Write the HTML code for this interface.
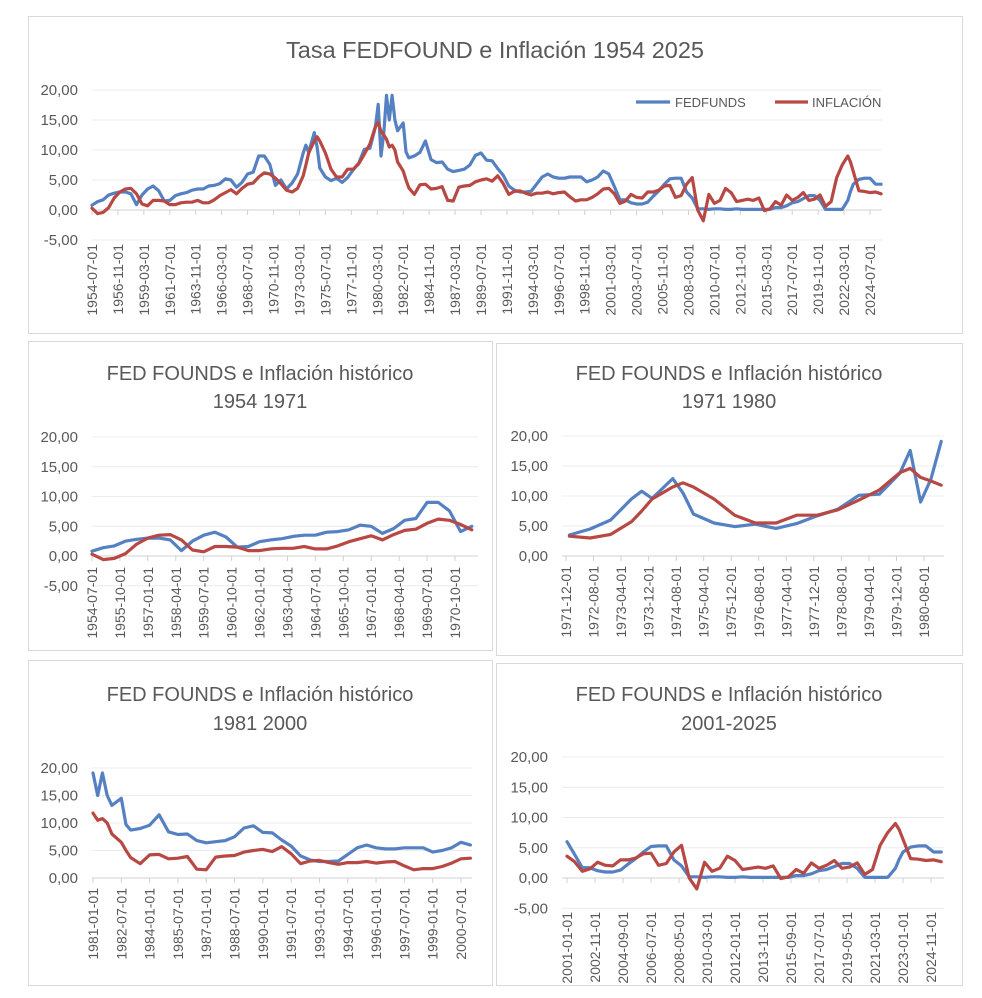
<!DOCTYPE html>
<html><head><meta charset="utf-8"><style>
body{margin:0;background:#fff;}
svg{display:block;font-family:"Liberation Sans",sans-serif;}
</style></head><body>
<svg id="svg" width="982" height="998" viewBox="0 0 982 998"></svg>
<script>
const years=[1954.5,1955,1955.5,1956,1956.5,1957,1957.5,1958,1958.5,1959,1959.5,1960,1960.5,1961,1961.5,1962,1962.5,1963,1963.5,1964,1964.5,1965,1965.5,1966,1966.5,1967,1967.5,1968,1968.5,1969,1969.5,1970,1970.5,1971,1971.5,1972,1972.5,1973,1973.5,1973.75,1974,1974.5,1974.75,1975,1975.5,1976,1976.5,1977,1977.5,1978,1978.5,1979,1979.5,1980,1980.25,1980.5,1980.75,1981,1981.25,1981.5,1981.75,1982,1982.5,1982.75,1983,1983.5,1984,1984.5,1985,1985.5,1986,1986.5,1987,1987.5,1988,1988.5,1989,1989.5,1990,1990.5,1991,1991.5,1992,1992.5,1993,1993.5,1994,1994.5,1995,1995.5,1996,1996.5,1997,1997.5,1998,1998.5,1999,1999.5,2000,2000.5,2001,2001.5,2002,2002.5,2003,2003.5,2004,2004.5,2005,2005.5,2006,2006.5,2007,2007.5,2008,2008.5,2009,2009.5,2010,2010.5,2011,2011.5,2012,2012.5,2013,2013.5,2014,2014.5,2015,2015.5,2016,2016.5,2017,2017.5,2018,2018.5,2019,2019.5,2020,2020.5,2021,2021.5,2022,2022.5,2022.75,2023,2023.5,2024,2024.5,2025,2025.5];
const fedfunds=[0.8,1.4,1.7,2.5,2.8,3.0,3.0,2.7,0.9,2.5,3.5,4.0,3.2,1.5,1.6,2.4,2.7,2.9,3.3,3.5,3.5,4.0,4.1,4.4,5.2,5.0,3.8,4.6,6.0,6.3,9.0,9.0,7.6,4.1,5.0,3.5,4.5,6.0,9.5,10.8,9.6,12.9,10.5,7.0,5.5,4.9,5.3,4.6,5.4,6.7,7.8,10.1,10.3,13.8,17.6,9.0,12.8,19.1,15.0,19.1,15.0,13.2,14.5,9.7,8.7,9.0,9.6,11.5,8.4,7.9,8.0,6.8,6.4,6.6,6.8,7.5,9.1,9.5,8.3,8.2,6.9,5.8,4.0,3.3,3.0,3.0,3.1,4.3,5.5,6.0,5.5,5.3,5.3,5.5,5.5,5.5,4.7,5.0,5.5,6.5,6.0,3.9,1.7,1.7,1.2,1.0,1.0,1.3,2.3,3.2,4.3,5.2,5.3,5.3,3.0,2.0,0.2,0.2,0.1,0.2,0.2,0.1,0.1,0.2,0.1,0.1,0.1,0.1,0.1,0.1,0.4,0.4,0.7,1.2,1.4,1.9,2.4,2.4,1.6,0.1,0.1,0.1,0.1,1.6,3.1,4.3,5.1,5.3,5.3,4.3,4.3];
const inflation=[0.3,-0.6,-0.4,0.4,2.0,3.0,3.5,3.6,2.7,1.0,0.7,1.6,1.6,1.5,0.9,0.9,1.2,1.3,1.3,1.6,1.2,1.2,1.7,2.4,2.9,3.4,2.7,3.6,4.3,4.5,5.5,6.2,6.0,5.3,4.4,3.3,3.0,3.6,5.7,7.5,9.5,11.5,12.2,11.5,9.5,6.8,5.5,5.5,6.8,6.8,7.7,9.3,11.0,13.9,14.6,13.1,12.5,11.8,10.5,10.8,10.0,8.0,6.5,5.0,3.7,2.6,4.2,4.3,3.5,3.6,3.9,1.6,1.5,3.8,4.0,4.1,4.7,5.0,5.2,4.8,5.7,4.4,2.6,3.1,3.2,2.8,2.5,2.8,2.8,3.0,2.7,2.9,3.0,2.2,1.5,1.7,1.7,2.1,2.7,3.5,3.6,2.7,1.1,1.5,2.6,2.1,2.0,3.0,3.0,3.3,4.0,4.1,2.1,2.4,4.3,5.4,0.0,-1.8,2.6,1.1,1.6,3.6,2.9,1.4,1.6,1.8,1.6,2.0,-0.1,0.2,1.4,0.8,2.5,1.6,2.1,2.9,1.6,1.8,2.5,0.6,1.4,5.4,7.5,9.0,8.0,6.4,3.2,3.1,2.9,3.0,2.7];
const yTicksA=[20,15,10,5,0,-5];
const yTicksB=[20,15,10,5,0];
</script>
<script>
const NS="http://www.w3.org/2000/svg";
const svg=document.getElementById('svg');
function mk(tag,attrs,parent,text){const e=document.createElementNS(NS,tag);for(const k in attrs)e.setAttribute(k,attrs[k]);if(text!==undefined)e.textContent=text;(parent||svg).appendChild(e);return e;}
function fmt(v){return (v<0?'-':'')+Math.abs(v).toFixed(2).replace('.',',');}
function pad(n){return (n<10?'0':'')+n;}
function tickLabels(startY,startM,step,count){const out=[];let t=startY*12+startM-1;for(let i=0;i<count;i++){const y=Math.floor(t/12),m=t%12+1;out.push({label:y+'-'+pad(m)+'-01',year:y+(m-1)/12});t+=step;}return out;}
const charts=[
 {name:'chart-1954-2025',box:[28,16,934,317],titles:['Tasa FEDFOUND e Inflación 1954 2025'],ty:[50],tsize:23.5,
  x0:1954.5,px0:92,x1:2024.5,px1:870,xmin:1954.5,xmax:2025.6,y0:210,ppu:6,yt:yTicksA,ylx:78,gx0:92,gx1:882,
  ticks:tickLabels(1954,7,28,31),tly:244,legend:true},
 {name:'chart-1954-1971',box:[28,341,464,309],titles:['FED FOUNDS e Inflación histórico','1954 1971'],ty:[372,400],tsize:20,
  x0:1954.5,px0:92,x1:1970.75,px1:455,xmin:1954.5,xmax:1971.95,y0:556,ppu:5.95,yt:yTicksA,ylx:78,gx0:92,gx1:478,
  ticks:tickLabels(1954,7,15,14),tly:567},
 {name:'chart-1971-1980',box:[496,343,466,312],titles:['FED FOUNDS e Inflación histórico','1971 1980'],ty:[372,400],tsize:20,
  x0:1971.917,px0:566,x1:1980.583,px1:924,xmin:1971.9,xmax:1981.0,y0:556,ppu:6,yt:yTicksB,ylx:548,gx0:562,gx1:944,
  ticks:tickLabels(1971,12,8,14),tly:566},
 {name:'chart-1981-2000',box:[28,660,464,325],titles:['FED FOUNDS e Inflación  histórico','1981 2000'],ty:[693,722],tsize:20,
  x0:1981,px0:93,x1:2000.5,px1:461,xmin:1981,xmax:2001.0,y0:878,ppu:5.5,yt:yTicksB,ylx:78,gx0:92,gx1:472,
  ticks:tickLabels(1981,1,18,14),tly:888},
 {name:'chart-2001-2025',box:[496,663,466,322],titles:['FED FOUNDS e Inflación histórico','2001-2025'],ty:[693,722],tsize:20,
  x0:2001,px0:567,x1:2024.833,px1:931,xmin:2001,xmax:2025.6,y0:878,ppu:6.05,yt:yTicksA,ylx:548,gx0:562,gx1:944,
  ticks:tickLabels(2001,1,22,14),tly:912}
];
charts.forEach(c=>{
 const g=mk('g',{});
 
 
 const xs=v=>c.px0+(v-c.x0)*(c.px1-c.px0)/(c.x1-c.x0);
 const ys=v=>c.y0-v*c.ppu;
 const b=mk('rect',{x:c.box[0]+.5,y:c.box[1]+.5,width:c.box[2],height:c.box[3],fill:'#fff',stroke:'#d9d9d9'},g);
 
 
 c.titles.forEach((t,i)=>{const e=mk('text',{x:c.box[0]+c.box[2]/2,y:c.ty[i]+8,'text-anchor':'middle','font-size':c.tsize,fill:'#595959'},g,t);
  
  });
 c.yt.forEach(v=>{
  const gl=mk('line',{x1:c.gx0,x2:c.gx1,y1:ys(v),y2:ys(v),stroke:v===0?'#d0d0d0':'#ececec','stroke-width':1},g);
  
  
  const l=mk('text',{x:c.ylx,y:ys(v)+5,'text-anchor':'end','font-size':15,fill:'#595959'},g,fmt(v));
  
  
 });
 c.ticks.forEach(t=>{
  const x=xs(t.year);
  const tm=mk('line',{x1:x,x2:x,y1:c.y0,y2:c.y0+5,stroke:'#d0d0d0'},g);
  
  
  const l=mk('text',{x:0,y:0,'text-anchor':'end','font-size':14,fill:'#595959',transform:`translate(${x+5},${c.tly}) rotate(-90)`},g,t.label);
  
  
 });
 [[fedfunds,'#5581c2','fedfunds-line'],[inflation,'#b84843','inflation-line']].forEach(([arr,col,nm])=>{
  let pts=[];
  years.forEach((yr,i)=>{if(yr>=c.xmin-0.01&&yr<=c.xmax+0.01)pts.push(xs(yr).toFixed(1)+','+ys(arr[i]).toFixed(1));});
  const p=mk('polyline',{points:pts.join(' '),fill:'none',stroke:col,'stroke-width':3.2,'stroke-linejoin':'round','stroke-linecap':'round'},g);
  
  
 });
 if(c.legend){
  const lg=mk('g',{},g);
  
  
  mk('line',{x1:636,x2:670,y1:102,y2:102,stroke:'#5581c2','stroke-width':3.2},lg);
  const t1=mk('text',{x:675,y:107,'font-size':13,fill:'#595959'},lg,'FEDFUNDS');
  
  
  mk('line',{x1:775,x2:808,y1:102,y2:102,stroke:'#b84843','stroke-width':3.2},lg);
  const t2=mk('text',{x:812,y:107,'font-size':13,fill:'#595959'},lg,'INFLACIÓN');
  
  
 }
});
</script>
</body></html>
